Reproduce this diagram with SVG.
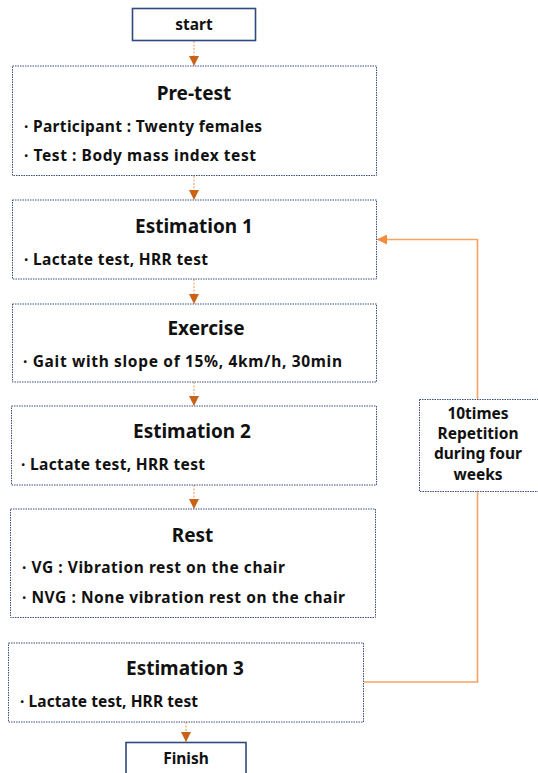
<svg xmlns="http://www.w3.org/2000/svg" width="538" height="773" viewBox="0 0 538 773">
<defs>
<style>
.term{fill:#fff;stroke:#2f4a7c;stroke-width:1.6}
.box{fill:#fff;stroke:#3a4f7f;stroke-width:1;stroke-dasharray:1.5 1}
.t{font-family:"Noto Sans","Liberation Sans",sans-serif;font-weight:bold;fill:#111}
.title{font-size:19px;text-anchor:middle}
.body{font-size:15.5px}
.c{font-size:15.5px;text-anchor:middle}
.flow{stroke:#f0b07a;stroke-width:1.3;stroke-dasharray:2 1.5;fill:none}
.loop{stroke:#f5a262;stroke-width:1.6;fill:none}
</style>
<marker id="ah" viewBox="0 0 10 10" refX="10" refY="5" markerWidth="10" markerHeight="10" markerUnits="userSpaceOnUse" orient="auto">
<path d="M0,0 L10,5 L0,10 Z" fill="#c86418"/>
</marker>
<marker id="ah2" viewBox="0 0 10 10" refX="10" refY="5" markerWidth="10" markerHeight="10" markerUnits="userSpaceOnUse" orient="auto">
<path d="M0,0 L10,5 L0,10 Z" fill="#f38a3c"/>
</marker>
</defs>
<g id="connectors">
<path class="flow" d="M194,41 V66" marker-end="url(#ah)"/>
<path class="flow" d="M194,176 V200" marker-end="url(#ah)"/>
<path class="flow" d="M194,279 V304" marker-end="url(#ah)"/>
<path class="flow" d="M194,382 V406" marker-end="url(#ah)"/>
<path class="flow" d="M194,485 V509" marker-end="url(#ah)"/>
<path class="flow" d="M186,722 V742" marker-end="url(#ah)"/>
<path class="loop" d="M364,682 H477.5 V239.5 H377" marker-end="url(#ah2)"/>
</g>
<g id="start">
<rect class="term" x="132.5" y="8.5" width="123" height="32"/>
<text class="t c" x="194" y="30">start</text>
</g>
<g id="pretest">
<rect class="box" x="12.5" y="66" width="364" height="109.5"/>
<text class="t title" x="194" y="100">Pre-test</text>
<text class="t body" x="24" y="132" textLength="238" lengthAdjust="spacing">· Participant : Twenty females</text>
<text class="t body" x="24" y="161" textLength="232" lengthAdjust="spacing">· Test : Body mass index test</text>
</g>
<g id="estimation1">
<rect class="box" x="12.5" y="200" width="364" height="79"/>
<text class="t title" x="194" y="233">Estimation 1</text>
<text class="t body" x="24" y="265" textLength="184" lengthAdjust="spacing">· Lactate test, HRR test</text>
</g>
<g id="exercise">
<rect class="box" x="12.5" y="304" width="364" height="78"/>
<text class="t title" x="206" y="335">Exercise</text>
<text class="t body" x="23" y="367" textLength="319" lengthAdjust="spacing">· Gait with slope of 15%, 4km/h, 30min</text>
</g>
<g id="estimation2">
<rect class="box" x="11.5" y="406" width="365" height="79"/>
<text class="t title" x="192" y="438">Estimation 2</text>
<text class="t body" x="21" y="470" textLength="184" lengthAdjust="spacing">· Lactate test, HRR test</text>
</g>
<g id="rest">
<rect class="box" x="10.5" y="509" width="365" height="108.5"/>
<text class="t title" x="192.5" y="542">Rest</text>
<text class="t body" x="22" y="573" textLength="263" lengthAdjust="spacing">· VG : Vibration rest on the chair</text>
<text class="t body" x="22" y="603" textLength="323" lengthAdjust="spacing">· NVG : None vibration rest on the chair</text>
</g>
<g id="estimation3">
<rect class="box" x="8.5" y="643" width="355" height="79"/>
<text class="t title" x="185" y="675">Estimation 3</text>
<text class="t body" x="20" y="707" textLength="178" lengthAdjust="spacing">· Lactate test, HRR test</text>
</g>
<g id="finish">
<rect class="term" x="126" y="742.5" width="120" height="40"/>
<text class="t c" x="186" y="764">Finish</text>
</g>
<g id="repetition">
<rect class="box" x="419.5" y="399.5" width="125" height="92"/>
<text class="t c" x="478" y="419">10times</text>
<text class="t c" x="478" y="439">Repetition</text>
<text class="t c" x="478" y="459">during four</text>
<text class="t c" x="478" y="480">weeks</text>
</g>
</svg>
